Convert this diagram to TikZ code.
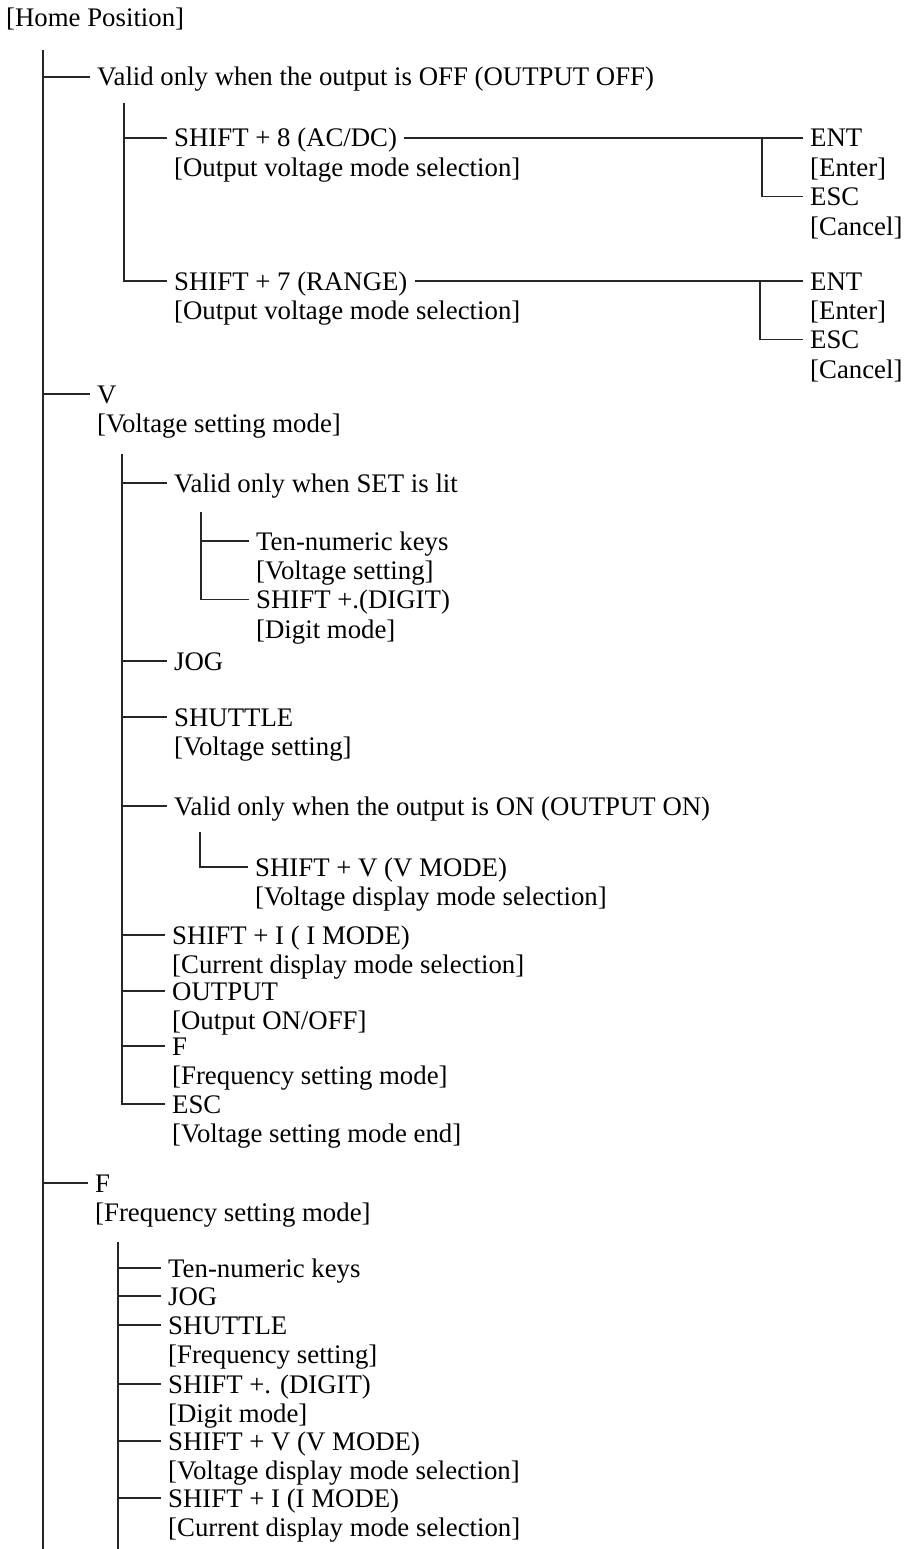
\documentclass[tikz,border=0pt]{standalone}
\usepackage{fontspec}
\setmainfont{Liberation Serif}
\usetikzlibrary{positioning}

\begin{document}
\begin{tikzpicture}[
    x=1pt, y=-1pt,
    txt/.style={
        anchor=west,
        font=\fontsize{26.8}{30}\selectfont,
        inner xsep=7pt,
        inner ysep=0pt,
        text height=18pt,
        text depth=0pt
    },
    under/.style={txt, below=11pt of #1.south west, anchor=north west},
    tree/.style={line width=1.1pt, black!85}
]
\useasboundingbox (0,0) rectangle (907,1549);

\node[txt] (home) at (-1,18) {[Home Position]};

% main trunk
\coordinate (trunk) at (43,50);
\coordinate (trunkend) at (43,1549);

% output off
\node[txt] (offsw) at (90,77) {Valid only when the output is OFF (OUTPUT OFF)};
\coordinate (offtrunk) at (124,103);

\node[txt] (shift8) at (167,138) {SHIFT + 8 (AC/DC)};
\node[under=shift8] (shift8d) {[Output voltage mode selection]};
\node[txt] (shift7) at (167,281) {SHIFT + 7 (RANGE)};
\node[under=shift7] (shift7d) {[Output voltage mode selection]};

\coordinate (acdc) at (762,138);
\node[txt] (ent1) at (803,138) {ENT};
\node[under=ent1] (ent1d) {[Enter]};
\node[under=ent1d] (esc1) {ESC};
\node[under=esc1] (esc1d) {[Cancel]};

\coordinate (range) at (760,281);
\node[txt] (ent2) at (803,281) {ENT};
\node[under=ent2] (ent2d) {[Enter]};
\node[under=ent2d] (esc2) {ESC};
\node[under=esc2] (esc2d) {[Cancel]};

% voltage setting
\node[txt] (vkey) at (90,394) {V};
\node[under=vkey] (vkeyd) {[Voltage setting mode]};
\coordinate (vtrunk) at (122,454);

\node[txt] (setlit) at (167,483) {Valid only when SET is lit};
\coordinate (settrunk) at (201,512);
\node[txt] (ten1) at (249,541) {Ten-numeric keys};
\node[under=ten1] (ten1d) {[Voltage setting]};
\node[under=ten1d] (digit1) {SHIFT +.(DIGIT)};
\node[under=digit1] (digit1d) {[Digit mode]};

\node[txt] (jog1) at (167,661) {JOG};
\node[txt] (shuttle1) at (167,717) {SHUTTLE};
\node[under=shuttle1] (shuttle1d) {[Voltage setting]};

\node[txt] (onlit) at (167,806) {Valid only when the output is ON (OUTPUT ON)};
\coordinate (ontrunk) at (200,832);
\node[txt] (vmode1) at (248,867) {SHIFT + V (V MODE)};
\node[under=vmode1] (vmode1d) {[Voltage display mode selection]};

\node[txt] (imode1) at (165,935) {SHIFT + I ( I MODE)};
\node[under=imode1] (imode1d) {[Current display mode selection]};
\node[txt] (outkey) at (165,991) {OUTPUT};
\node[under=outkey] (outkeyd) {[Output ON/OFF]};
\node[txt] (fsel) at (165,1046) {F};
\node[under=fsel] (fseld) {[Frequency setting mode]};
\node[txt] (esc3) at (165,1104) {ESC};
\node[under=esc3] (esc3d) {[Voltage setting mode end]};

% frequency setting
\node[txt] (fkey) at (88,1183) {F};
\node[under=fkey] (fkeyd) {[Frequency setting mode]};
\coordinate (ftrunk) at (118,1242);
\coordinate (ftrunkend) at (118,1549);

\node[txt] (ten2) at (161,1268) {Ten-numeric keys};
\node[txt] (jog2) at (161,1296) {JOG};
\node[txt] (shuttle2) at (161,1325) {SHUTTLE};
\node[under=shuttle2] (shuttle2d) {[Frequency setting]};
\node[txt] (digit2) at (161,1384) {SHIFT +. (DIGIT)};
\node[under=digit2] (digit2d) {[Digit mode]};
\node[txt] (vmode2) at (161,1441) {SHIFT + V (V MODE)};
\node[under=vmode2] (vmode2d) {[Voltage display mode selection]};
\node[txt] (imode2) at (161,1498) {SHIFT + I (I MODE)};
\node[under=imode2] (imode2d) {[Current display mode selection]};

% lines
\draw[tree] (trunk) -- (trunkend);
\draw[tree] (trunk |- offsw.west) -- (offsw.west);
\draw[tree] (trunk |- vkey.west) -- (vkey.west);
\draw[tree] (trunk |- fkey.west) -- (fkey.west);

\draw[tree] (offtrunk) |- (shift7.west);
\draw[tree] (offtrunk |- shift8.west) -- (shift8.west);
\draw[tree] (shift8.east) -- (ent1.west);
\draw[tree] (acdc) |- (esc1.west);
\draw[tree] (shift7.east) -- (ent2.west);
\draw[tree] (range) |- (esc2.west);

\draw[tree] (vtrunk) |- (esc3.west);
\draw[tree] (vtrunk |- setlit.west) -- (setlit.west);
\draw[tree] (vtrunk |- jog1.west) -- (jog1.west);
\draw[tree] (vtrunk |- shuttle1.west) -- (shuttle1.west);
\draw[tree] (vtrunk |- onlit.west) -- (onlit.west);
\draw[tree] (vtrunk |- imode1.west) -- (imode1.west);
\draw[tree] (vtrunk |- outkey.west) -- (outkey.west);
\draw[tree] (vtrunk |- fsel.west) -- (fsel.west);

\draw[tree] (settrunk) |- (digit1.west);
\draw[tree] (settrunk |- ten1.west) -- (ten1.west);
\draw[tree] (ontrunk) |- (vmode1.west);

\draw[tree] (ftrunk) -- (ftrunkend);
\draw[tree] (ftrunk |- ten2.west) -- (ten2.west);
\draw[tree] (ftrunk |- jog2.west) -- (jog2.west);
\draw[tree] (ftrunk |- shuttle2.west) -- (shuttle2.west);
\draw[tree] (ftrunk |- digit2.west) -- (digit2.west);
\draw[tree] (ftrunk |- vmode2.west) -- (vmode2.west);
\draw[tree] (ftrunk |- imode2.west) -- (imode2.west);

\end{tikzpicture}
\end{document}
